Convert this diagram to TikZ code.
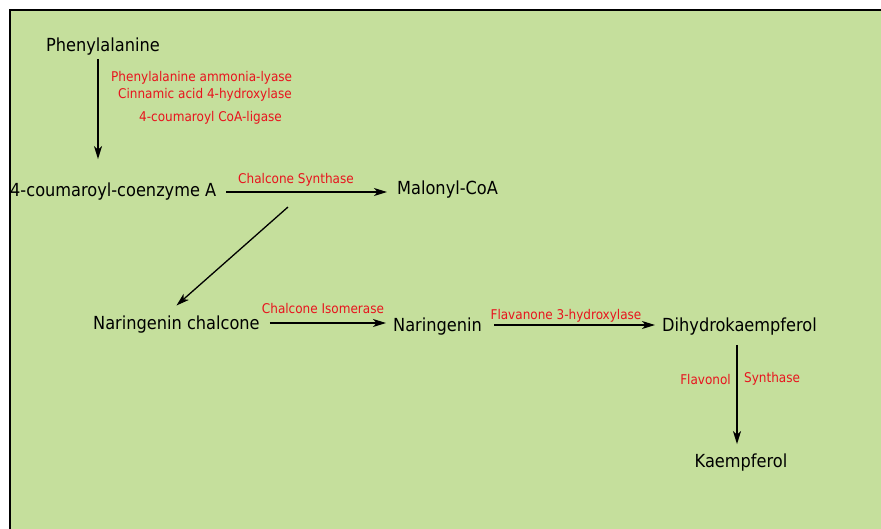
\documentclass[tikz,border=0pt]{standalone}
\usepackage{fontspec}
\setmainfont{DejaVu Sans Condensed}
\usetikzlibrary{arrows.meta}

\definecolor{leaf}{RGB}{197,223,156}
\definecolor{enz}{RGB}{232,20,30}

\begin{document}
\begin{tikzpicture}[
    x=1pt, y=-1pt,
    every node/.style={inner sep=0pt, yshift=-2pt, font=\fontsize{18}{20}\selectfont},
    enzyme/.style={text=enz, font=\fontsize{13.4}{15}\selectfont},
    arr/.style={-{Stealth[length=13pt,width=8pt,inset=3.5pt]}, line width=1.3pt}
]

\useasboundingbox (0,0) rectangle (881,528);
\filldraw[fill=leaf, draw=black, line width=2pt] (10,10) rectangle (900,540);

% compounds
\node (phe) at (103,45) {Phenylalanine};
\node[anchor=west] (coa) at (10,190) {4-coumaroyl-coenzyme A};
\node[anchor=west] (mal) at (397,188) {Malonyl-CoA};
\node[anchor=west] (chal) at (93,323) {Naringenin chalcone};
\node[anchor=west] (nar) at (393,325) {Naringenin};
\node[anchor=west] (dhk) at (662,325) {Dihydrokaempferol};
\node (kae) at (741,461) {Kaempferol};

% enzymes
\node[enzyme, anchor=west] (e1) at (111,76) {Phenylalanine ammonia-lyase};
\node[enzyme, anchor=west] (e2) at (118,93) {Cinnamic acid 4-hydroxylase};
\node[enzyme, anchor=west] (e3) at (139,116) {4-coumaroyl CoA-ligase};
\node[enzyme] (e4) at (296,178) {Chalcone Synthase};
\node[enzyme] (e5) at (323,306) {Chalcone Isomerase};
\node[enzyme] (e6) at (566,314) {Flavanone 3-hydroxylase};
\node[enzyme, anchor=east] (e7) at (731,377) {Flavonol};
\node[enzyme, anchor=west] (e8) at (744,377) {Synthase};

% reactions
\coordinate (split) at (288,205);
\draw[arr, shorten >=24pt] (phe.south -| 98,0) ++(0,3) -- (coa.north -| 98,0);
\draw[arr, shorten <=10pt, shorten >=10pt] (coa.east |- 0,192) -- (mal.west |- 0,192);
\draw[arr, shorten >=16pt] (split) -- ([xshift=-12pt]chal.north);
\draw[arr, shorten <=10pt, shorten >=7pt] (chal.east |- 0,323) -- (nar.west |- 0,323);
\draw[arr, shorten <=12pt, shorten >=7pt] (nar.east |- 0,325) -- (dhk.west |- 0,325);
\draw[arr, shorten >=10pt] (dhk.south -| 737,0) ++(0,9) -- (kae.north -| 737,0);

\end{tikzpicture}
\end{document}
